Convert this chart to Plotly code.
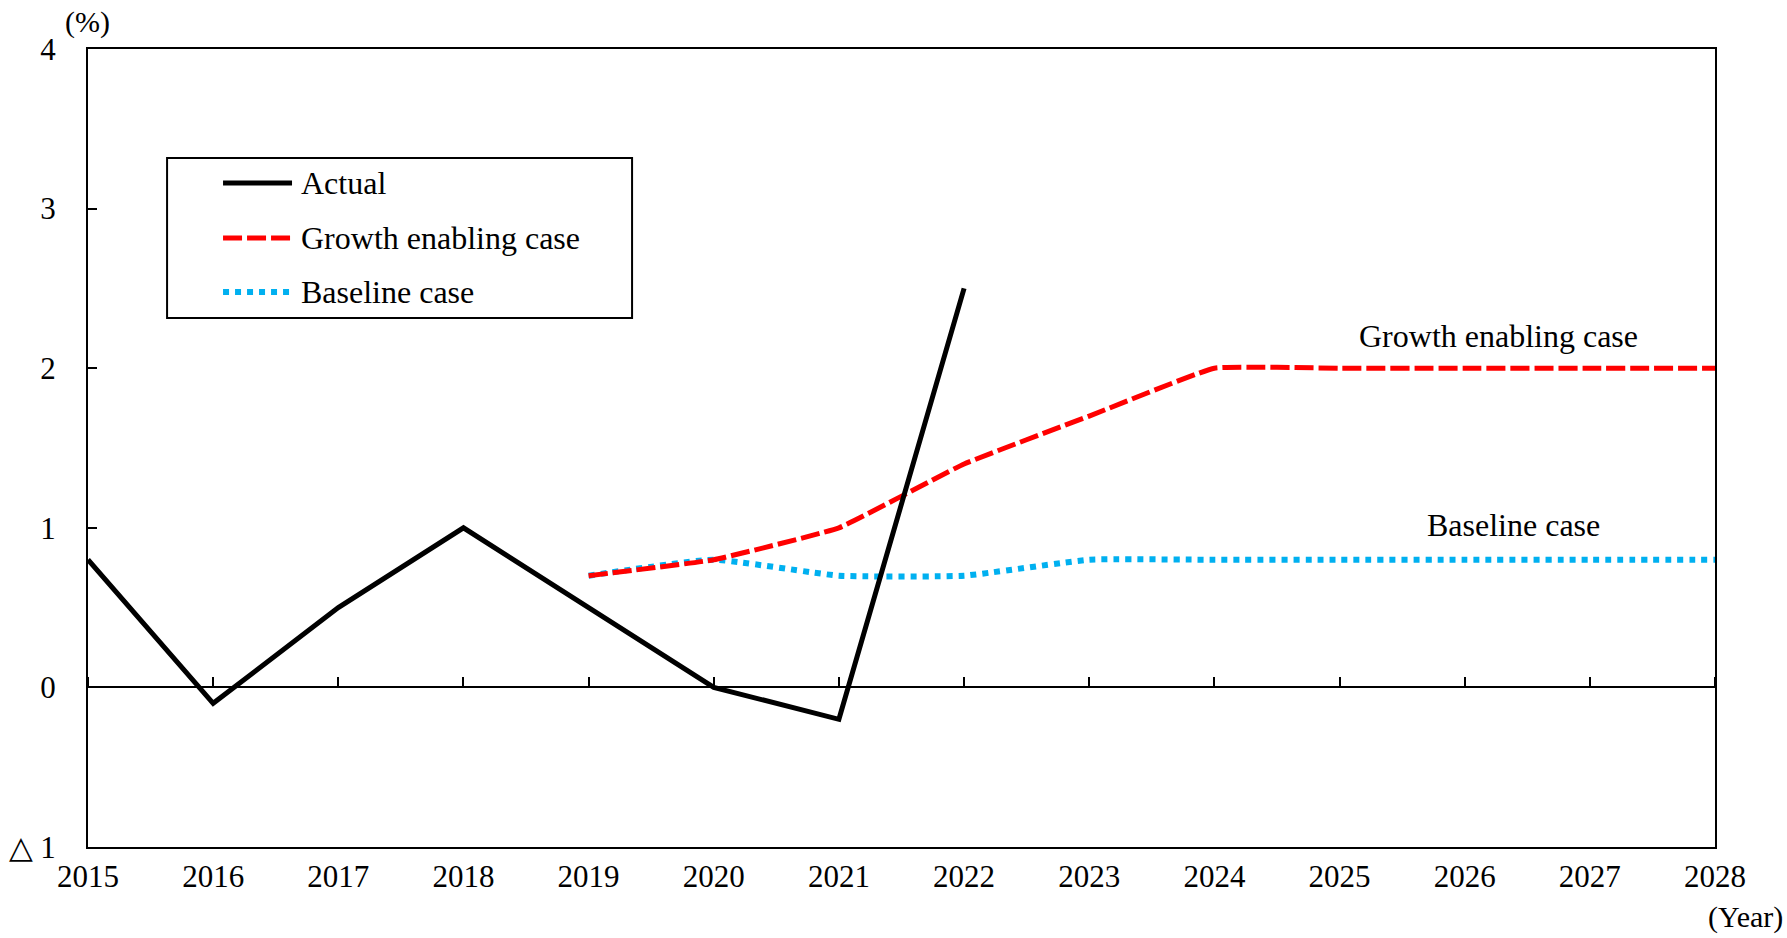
import plotly.graph_objects as go

# Years on the horizontal axis
years = list(range(2015, 2029))

# Year-on-year change (%)
actual_years = [2015, 2016, 2017, 2018, 2019, 2020, 2021, 2022]
actual_vals = [0.8, -0.1, 0.5, 1.0, 0.5, 0.0, -0.2, 2.5]

growth_years = [2019, 2020, 2021, 2022, 2023, 2024, 2025, 2026, 2027, 2028]
growth_vals = [0.7, 0.8, 1.0, 1.4, 1.7, 2.0, 2.0, 2.0, 2.0, 2.0]

baseline_years = [2019, 2020, 2021, 2022, 2023, 2024, 2025, 2026, 2027, 2028]
baseline_vals = [0.7, 0.8, 0.7, 0.7, 0.8, 0.8, 0.8, 0.8, 0.8, 0.8]

y_ticks = [-1, 0, 1, 2, 3, 4]
y_ticktext = ["△ 1", "0", "1", "2", "3", "4"]

FONT = "Liberation Serif, Times New Roman, serif"
FS = 32
RED = "#FF0000"
BLUE = "#00B0F0"

RED_DASH = "19px,5px"
BLUE_DOT = "6px,6px"

fig = go.Figure()

fig.add_trace(go.Scatter(
    x=baseline_years, y=baseline_vals, mode="lines", name="Baseline case",
    line=dict(color=BLUE, width=6, dash=BLUE_DOT, shape="spline", smoothing=0.4),
    showlegend=False,
))
fig.add_trace(go.Scatter(
    x=growth_years, y=growth_vals, mode="lines", name="Growth enabling case",
    line=dict(color=RED, width=5, dash=RED_DASH, shape="spline", smoothing=0.3),
    showlegend=False,
))
fig.add_trace(go.Scatter(
    x=actual_years, y=actual_vals, mode="lines", name="Actual",
    line=dict(color="black", width=5),
    showlegend=False,
))
# carrier for the zero-line axis with its upward tick marks
fig.add_trace(go.Scatter(
    x=[years[0], years[-1]], y=[None, None], xaxis="x2", mode="lines",
    showlegend=False, hoverinfo="skip",
))

fig.update_layout(
    width=1787, height=938,
    margin=dict(l=88, r=72, t=49, b=91, autoexpand=False),
    paper_bgcolor="white", plot_bgcolor="white",
    font=dict(family=FONT, size=FS, color="black"),
    xaxis=dict(
        range=[years[0], years[-1]], tickvals=years, ticktext=[str(y) for y in years],
        showline=True, linecolor="black", linewidth=2, mirror=True, automargin=False,
        ticks="", showgrid=False, zeroline=False, ticklabelstandoff=1,
        tickfont=dict(family=FONT, size=FS - 1),
    ),
    xaxis2=dict(
        overlaying="x", anchor="free", position=0.2, side="top",
        range=[years[0], years[-1]], tickvals=years, showticklabels=False,
        showline=True, linecolor="black", linewidth=2, automargin=False,
        ticks="outside", ticklen=9, tickwidth=2, tickcolor="black",
        showgrid=False, zeroline=False,
    ),
    yaxis=dict(
        range=[-1, 4], tickvals=y_ticks, ticktext=y_ticktext,
        showline=True, linecolor="black", linewidth=2, mirror=True, automargin=False,
        ticks="inside", ticklen=9, tickwidth=2, tickcolor="black",
        showgrid=False, zeroline=False, ticklabelstandoff=24,
        tickfont=dict(family=FONT, size=FS - 1),
    ),
    showlegend=False,
)

# legend box
fig.add_shape(type="rect", xref="paper", yref="paper",
              x0=0.0486, x1=0.3344, y0=0.6629, y1=0.8634,
              line=dict(color="black", width=2), fillcolor="white", layer="above")

legend_rows = [
    ("Actual", dict(color="black", width=5), 0.8321),
    ("Growth enabling case", dict(color=RED, width=5, dash=RED_DASH), 0.7632),
    ("Baseline case", dict(color=BLUE, width=6, dash=BLUE_DOT), 0.6955),
]
for label, style, yy in legend_rows:
    fig.add_shape(type="line", xref="paper", yref="paper",
                  x0=0.0830, x1=0.1254, y0=yy, y1=yy, line=style, layer="above")
    fig.add_annotation(xref="paper", yref="paper", x=0.1297, y=yy,
                       text=label, showarrow=False, xanchor="left", yanchor="middle",
                       font=dict(family=FONT, size=FS))

# series labels
fig.add_annotation(x=2026.27, y=2.2, text="Growth enabling case", showarrow=False,
                   xanchor="center", yanchor="middle", font=dict(family=FONT, size=FS))
fig.add_annotation(x=2026.39, y=1.02, text="Baseline case", showarrow=False,
                   xanchor="center", yanchor="middle", font=dict(family=FONT, size=FS))

# axis units
fig.add_annotation(xref="paper", yref="paper", x=-0.0006, y=1.034, text="(%)",
                   showarrow=False, xanchor="center", yanchor="middle",
                   font=dict(family=FONT, size=FS - 2))
fig.add_annotation(xref="paper", yref="paper", x=1.043, y=-0.0877, text="(Year)",
                   showarrow=False, xanchor="right", yanchor="middle",
                   font=dict(family=FONT, size=FS - 2))

fig.write_html("out.html")
